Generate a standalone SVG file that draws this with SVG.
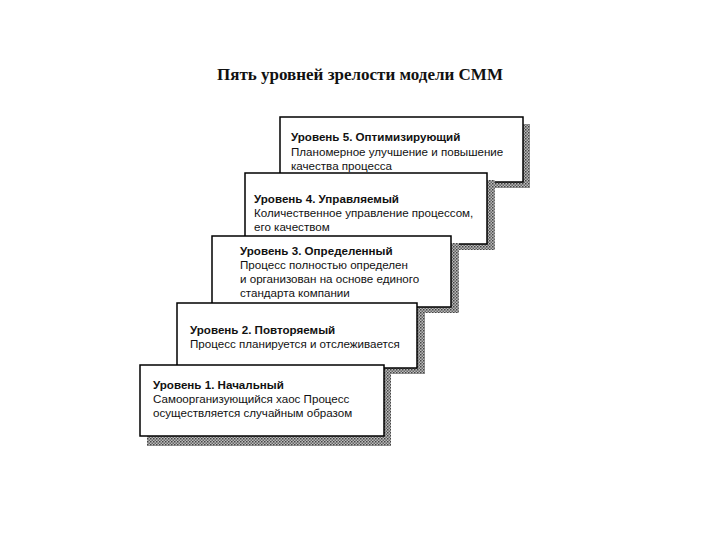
<svg xmlns="http://www.w3.org/2000/svg" width="720" height="540" viewBox="0 0 720 540">
<defs>
<pattern id="h" width="3" height="3" patternUnits="userSpaceOnUse"><rect width="3" height="3" fill="#bbb"/><rect width="1.5" height="1.5" fill="#444"/><rect x="1.5" y="1.5" width="1.5" height="1.5" fill="#666"/></pattern>
</defs>
<style>
.b{fill:#fff;stroke:#000;stroke-width:1.5}
.s{fill:url(#h)}
text{font-family:"Liberation Sans",Arial,sans-serif;font-size:11.6px;fill:#111}
.t{font-weight:bold}
</style>
<rect width="720" height="540" fill="#fff"/>
<text x="360" y="80" text-anchor="middle" style="font-family:'Liberation Serif',serif;font-size:17px;font-weight:bold">Пять уровней зрелости модели СММ</text>
<g id="n5"><rect class="s" x="287" y="124" width="243" height="64"/><rect class="b" x="280" y="117" width="243" height="65"/>
<text class="t" x="291" y="141">Уровень 5. Оптимизирующий</text><text x="291" y="156">Планомерное улучшение и повышение</text><text x="291" y="170">качества процесса</text></g>
<g id="n4"><rect class="s" x="252" y="180" width="243" height="70"/><rect class="b" x="245" y="173" width="242" height="71"/>
<text class="t" x="254" y="203">Уровень 4. Управляемый</text><text x="254" y="217">Количественное управление процессом,</text><text x="254" y="231">его качеством</text></g>
<g id="n3"><rect class="s" x="219" y="243" width="240" height="70"/><rect class="b" x="212" y="236" width="239" height="71"/>
<text class="t" x="240" y="255">Уровень 3. Определенный</text><text x="240" y="269">Процесс полностью определен</text><text x="240" y="283">и организован на основе единого</text><text x="240" y="297">стандарта компании</text></g>
<g id="n2"><rect class="s" x="184" y="310" width="241" height="64"/><rect class="b" x="177" y="303" width="240" height="65"/>
<text class="t" x="190" y="334">Уровень 2. Повторяемый</text><text x="190" y="348">Процесс планируется и отслеживается</text></g>
<g id="n1"><rect class="s" x="147" y="372" width="244" height="74"/><rect class="b" x="140" y="365" width="244" height="71"/>
<text class="t" x="153" y="389">Уровень 1. Начальный</text><text x="153" y="403">Самоорганизующийся хаос  Процесс</text><text x="153" y="417">осуществляется случайным образом</text></g>
<g id="connectors"/>
</svg>
